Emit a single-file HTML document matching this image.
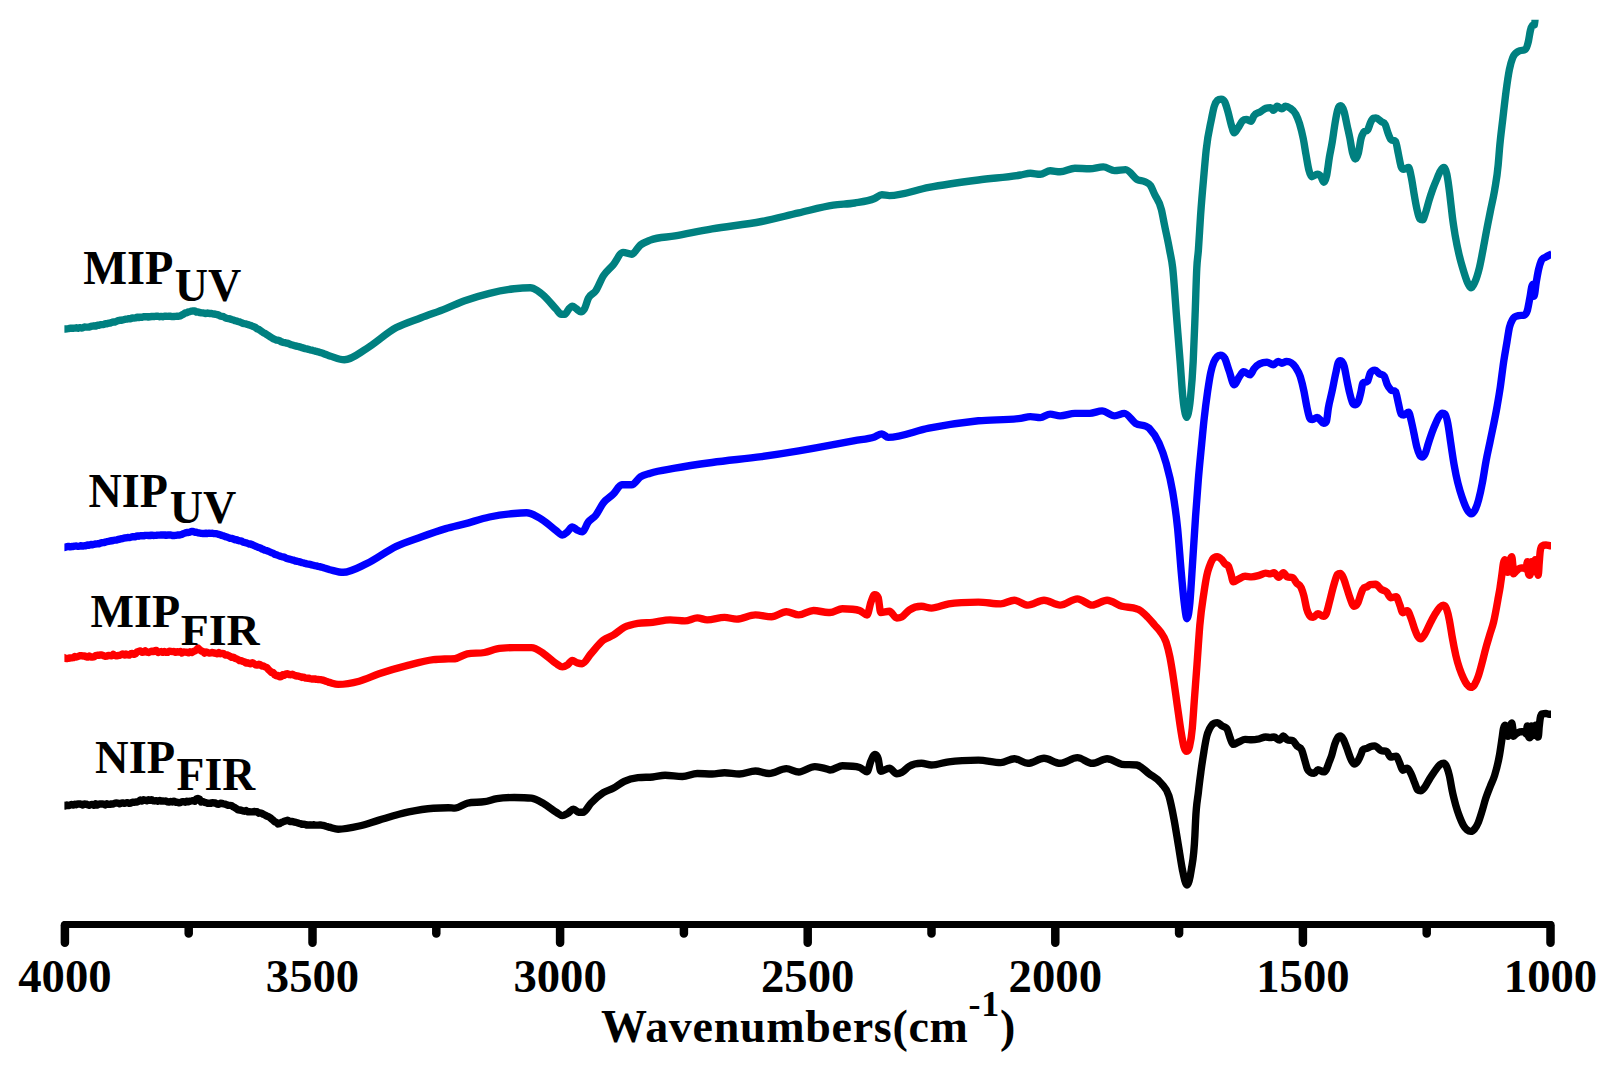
<!DOCTYPE html>
<html lang="en"><head><meta charset="utf-8"><title>FTIR spectra</title>
<style>
html,body{margin:0;padding:0;background:#fff;}
body{width:1617px;height:1071px;overflow:hidden;}
svg{display:block;}
.t{font-family:"Liberation Serif",serif;font-weight:bold;fill:#000;}
.c{fill:none;stroke-width:7.4;stroke-linejoin:round;stroke-linecap:butt;}
.ax{stroke:#000;stroke-width:6.9;stroke-linecap:round;fill:none;}
.tk{stroke-width:8.5;}
</style></head><body>
<svg width="1617" height="1071" viewBox="0 0 1617 1071">
<defs><clipPath id="plot"><rect x="64.4" y="19.8" width="1486.6" height="900"/></clipPath></defs>
<rect width="1617" height="1071" fill="#fff"/>
<g clip-path="url(#plot)">
<path class="c" stroke="#000000" d="M62,805.62 L63.6,805.27 L65.2,805.99 L66.8,804.97 L68.4,805.6 L70,805.19 L71.6,804.54 L73.2,805.1 L74.8,804.19 L76.4,804.68 L78,803.97 L79.6,803.91 L81.2,804.39 L82.8,805.02 L84.4,803.9 L86,804.06 L87.6,804.7 L89.2,805.22 L90.8,804.62 L92.4,804.33 L94,805.26 L95.6,803.77 L97.2,805.07 L98.8,804.16 L100.4,803.93 L102,803.87 L103.6,804.14 L105.2,804.9 L106.8,803.81 L108.4,804.38 L110,804.38 L111.6,803.85 L113.2,804.03 L114.8,803.14 L116.4,803.01 L118,803.12 L119.6,803.76 L121.2,803.22 L122.8,802.92 L124.4,803.26 L126,802.96 L127.6,802.62 L129.2,803.31 L130.8,803.01 L132.4,802.1 L134,802.38 L135.6,801.97 L137.2,802.02 L138.8,801.21 L140.4,800.07 L142,801.07 L143.6,799.69 L145.2,800.19 L146.8,800.75 L148.4,799.81 L150,800.38 L151.6,799.7 L153.2,800.75 L154.8,800.95 L156.4,800.7 L158,801.25 L159.6,800.42 L161.2,801.11 L162.8,801.04 L164.4,801.13 L166,801.07 L167.6,801.83 L169.2,802.15 L170.8,801.54 L172.4,801.98 L174,801.13 L175.6,802.25 L177.2,802.22 L178.8,802.79 L180.4,802.51 L182,801.65 L183.6,801.79 L185.2,802.21 L186.8,801.12 L188.4,801.74 L190,801.16 L191.6,800.92 L193.2,800.64 L194.8,801.2 L196.4,799.05 L198,798.44 L199.6,799.34 L201.2,801.98 L202.8,801.5 L204.4,802.35 L206,802.64 L207.6,803.24 L209.2,803.19 L210.8,803.38 L212.4,802.61 L214,802.98 L215.6,803.04 L217.2,804.04 L218.8,804.32 L220.4,803.22 L222,803.47 L223.6,803.81 L225.2,804.11 L226.8,804.85 L228.4,805.42 L230,805.4 L231.6,805.58 L233.2,806.9 L234.8,807.51 L236.4,808.52 L238,809.82 L239.6,810.02 L241.2,810.27 L242.8,810.87 L244.4,811.25 L246,810.42 L247.6,811.85 L249.2,811.71 L250.8,811.91 L252.4,811.9 L254,811.46 L255.6,811.81 L257.2,811.8 L258.8,813.18 L260.4,812.86 L262,813.52 L263.6,814.46 L265.2,815.13 L266.8,816.19 L268.4,816.57 L270,817.56 L271.6,819.06 L273.2,820.26 L274.8,821.81 L276.4,822.23 L278,823.95 L279.6,823.58 L281.2,822.5 L282.8,821.91 L284.4,821.26 L286,820.67 L287.6,820.17 L289.2,821.12 L290.8,821.61 L292.4,821.54 L294,822.1 L295.6,822.25 L297.2,822.71 L298.8,823.27 L300.4,823.56 L302,824.32 L303.6,824.14 L305.2,824.33 L306.8,825.12 L308.4,824.98 L310,824.81 L311.6,825.02 L313.2,824.79 L314.8,825.01 L316.4,825.17 L318,825.12 L319.6,825.05 L321.2,825.03 L322.8,825.3 L324.4,825.65 L326,826.18 L327.6,826.66 L329.2,827.21 L329.2,827.2C332.2,827.9 335.2,829.2 338.2,829.2C345.2,829.2 352.2,827.6 359.2,826.0C365.8,824.5 372.4,822.0 379.0,820.1C388.9,817.2 398.8,814.0 408.7,811.9C416.9,810.2 425.2,808.8 433.4,808.2C438.4,807.8 443.3,807.7 448.3,807.7C450.5,807.7 452.6,808.1 454.8,808.1C458.9,808.1 463.1,804.3 467.2,803.2C473.0,801.7 478.7,802.7 484.5,801.7C488.6,801.0 492.8,799.4 496.9,798.7C502.7,797.7 508.4,797.5 514.2,797.5C520.0,797.5 525.7,797.5 531.5,798.2C535.6,798.7 539.8,801.4 543.9,803.7C548.0,806.1 552.2,809.9 556.3,812.3C558.3,813.5 560.4,815.6 562.4,815.6C564.1,815.6 565.7,814.5 567.4,813.6C569.5,812.5 571.5,809.1 573.6,809.1C575.2,809.1 576.9,812.3 578.5,812.3C580.0,812.3 581.5,812.3 583.0,812.3C585.6,812.3 588.3,805.9 590.9,803.2C595.0,798.9 599.2,795.2 603.3,792.6C606.6,790.6 609.9,790.0 613.2,788.3C616.9,786.4 620.6,783.1 624.3,781.4C628.8,779.3 633.4,778.3 637.9,777.7C642.8,777.0 647.8,777.5 652.7,777.0C656.8,776.6 661.0,775.2 665.1,775.2C670.9,775.2 676.6,776.5 682.4,776.5C687.4,776.5 692.3,773.5 697.3,773.5C702.2,773.5 707.2,774.0 712.1,774.0C716.2,774.0 720.4,772.8 724.5,772.8C729.4,772.8 734.4,774.0 739.3,774.0C744.7,774.0 750.0,771.0 755.4,771.0C759.9,771.0 764.5,773.5 769.0,773.5C774.8,773.5 780.5,768.6 786.3,768.6C790.4,768.6 794.6,772.0 798.7,772.0C804.1,772.0 809.4,766.6 814.8,766.6C819.3,766.6 823.9,768.1 828.4,769.5C828.9,769.7 829.5,770.0 830.0,770.0C834.1,770.0 838.3,765.8 842.4,765.8C848.2,765.8 853.9,765.8 859.7,767.5C862.2,768.2 864.6,771.7 867.1,771.7C868.3,771.7 869.6,764.1 870.8,761.3C872.2,758.1 873.6,754.4 875.0,754.4C876.1,754.4 877.1,755.2 878.2,758.8C879.0,761.6 879.9,771.2 880.7,771.2C883.6,771.2 886.5,768.2 889.4,768.2C891.9,768.2 894.3,773.7 896.8,773.7C898.4,773.7 900.1,773.2 901.7,772.4C904.2,771.2 906.7,767.8 909.2,766.3C913.3,763.8 917.4,763.3 921.5,763.3C924.8,763.3 928.1,765.0 931.4,765.0C937.2,765.0 942.9,762.6 948.7,761.8C958.6,760.4 968.5,760.1 978.4,760.1C985.8,760.1 993.3,762.6 1000.7,762.6C1005.2,762.6 1009.8,758.8 1014.3,758.8C1018.8,758.8 1023.4,763.3 1027.9,763.3C1033.3,763.3 1038.6,758.3 1044.0,758.3C1049.4,758.3 1054.7,763.3 1060.1,763.3C1065.9,763.3 1071.6,757.6 1077.4,757.6C1082.3,757.6 1087.3,763.3 1092.2,763.3C1097.2,763.3 1102.1,758.8 1107.1,758.8C1112.0,758.8 1117.0,763.6 1121.9,764.3C1126.8,765.0 1131.8,764.3 1136.7,765.0C1140.8,765.6 1145.0,770.6 1149.1,773.7C1153.2,776.8 1157.4,778.1 1161.5,783.6C1164.0,786.9 1166.4,787.5 1168.9,795.9C1170.5,801.5 1172.2,809.6 1173.8,818.2C1175.5,826.9 1177.1,837.9 1178.8,847.9C1180.0,855.3 1181.3,864.3 1182.5,870.2C1184.0,877.4 1185.5,885.0 1187.0,885.0C1188.4,885.0 1189.8,879.5 1191.2,870.2C1192.4,862.0 1193.7,860.2 1194.9,835.5C1195.1,830.8 1195.4,824.7 1195.6,820.1C1196.5,801.8 1197.5,800.4 1198.4,792.0C1199.3,783.6 1200.3,776.4 1201.2,769.6C1202.1,762.8 1203.1,756.6 1204.0,751.0C1204.9,745.4 1205.9,739.7 1206.8,736.0C1207.7,732.3 1208.7,730.5 1209.6,728.6C1210.5,726.7 1211.5,725.4 1212.4,724.4C1214.1,722.6 1215.8,722.6 1217.5,722.6C1218.9,722.6 1220.3,724.8 1221.7,725.8C1223.6,727.1 1225.4,725.8 1227.3,729.5C1228.2,731.4 1229.2,735.4 1230.1,737.9C1231.1,740.4 1232.0,744.4 1233.0,744.4C1234.9,744.4 1236.7,742.8 1238.6,742.0C1240.8,741.1 1242.9,739.4 1245.1,739.4C1247.3,739.4 1249.4,739.8 1251.6,739.8C1254.1,739.8 1256.6,739.3 1259.1,738.8C1261.3,738.3 1263.4,737.0 1265.6,737.0C1267.2,737.0 1268.7,737.5 1270.3,737.5C1271.5,737.5 1272.8,737.0 1274.0,737.0C1275.9,737.0 1277.7,740.1 1279.6,740.1C1280.9,740.1 1282.1,736.0 1283.4,736.0C1284.6,736.0 1285.9,739.2 1287.1,739.8C1289.0,740.7 1290.8,739.8 1292.7,740.7C1294.3,741.5 1295.8,744.7 1297.4,746.3C1298.8,747.8 1300.3,746.7 1301.7,750.0C1302.7,752.4 1303.8,756.9 1304.8,760.3C1305.7,763.4 1306.7,767.6 1307.6,769.6C1308.5,771.6 1309.5,771.8 1310.4,772.4C1311.7,773.3 1312.9,773.4 1314.2,773.4C1315.4,773.4 1316.7,769.6 1317.9,769.6C1319.8,769.6 1321.6,771.9 1323.5,771.9C1324.4,771.9 1325.4,771.2 1326.3,769.6C1327.2,768.0 1328.2,764.7 1329.1,762.2C1330.0,759.7 1331.0,757.7 1331.9,754.7C1332.8,751.7 1333.8,747.2 1334.7,744.4C1335.6,741.6 1336.6,739.3 1337.5,737.9C1338.4,736.5 1339.4,736.0 1340.3,736.0C1341.2,736.0 1342.2,737.3 1343.1,738.8C1344.4,740.9 1345.6,744.9 1346.9,748.2C1348.1,751.4 1349.4,755.7 1350.6,758.4C1351.7,760.9 1352.9,764.0 1354.0,764.0C1355.4,764.0 1356.7,762.9 1358.1,760.7C1359.0,759.2 1360.0,757.0 1360.9,754.7C1361.5,753.2 1362.1,750.7 1362.7,750.0C1364.3,748.2 1365.8,749.0 1367.4,748.2C1368.3,747.8 1369.1,747.2 1370.0,746.8C1371.6,746.2 1373.1,745.9 1374.7,745.9C1376.9,745.9 1379.0,749.7 1381.2,750.6C1383.1,751.4 1384.9,750.6 1386.8,751.5C1388.0,752.1 1389.3,757.1 1390.5,757.1C1392.4,757.1 1394.2,756.2 1396.1,756.2C1397.4,756.2 1398.6,760.8 1399.9,763.6C1400.8,765.6 1401.8,770.2 1402.7,770.2C1404.2,770.2 1405.8,768.3 1407.3,768.3C1408.6,768.3 1409.8,771.4 1411.1,773.9C1412.3,776.4 1413.6,780.2 1414.8,783.2C1415.7,785.5 1416.7,789.0 1417.6,789.8C1418.7,790.7 1419.7,790.7 1420.8,790.7C1421.9,790.7 1423.1,789.2 1424.2,787.9C1426.1,785.8 1427.9,781.5 1429.8,778.6C1431.7,775.6 1433.5,772.7 1435.4,770.2C1436.9,768.1 1438.5,765.8 1440.0,764.6C1441.3,763.6 1442.5,763.1 1443.8,763.1C1444.8,763.1 1445.9,764.8 1446.9,767.4C1447.7,769.5 1448.6,772.2 1449.4,775.8C1450.3,779.8 1451.3,786.2 1452.2,790.7C1453.4,796.6 1454.7,801.3 1455.9,805.7C1457.1,810.1 1458.4,813.7 1459.6,816.9C1460.9,820.2 1462.1,823.1 1463.4,825.3C1464.6,827.4 1465.9,828.9 1467.1,829.9C1468.3,830.9 1469.6,831.4 1470.8,831.4C1472.1,831.4 1473.3,830.5 1474.6,829.0C1475.8,827.5 1477.1,825.5 1478.3,822.5C1479.5,819.5 1480.8,815.3 1482.0,811.3C1483.3,807.2 1484.5,802.1 1485.8,798.2C1487.3,793.7 1488.7,790.3 1490.2,786.5C1491.7,782.7 1493.1,780.3 1494.6,775.5C1496.3,770.0 1497.9,764.2 1499.6,754.5C1500.4,749.8 1501.2,744.1 1502.0,738.6C1502.5,735.4 1502.9,731.0 1503.4,728.8C1503.9,726.4 1504.4,725.1 1504.9,725.1C1505.5,725.1 1506.2,729.3 1506.8,731.8C1507.2,733.2 1507.5,736.3 1507.9,736.3C1508.5,736.3 1509.2,729.5 1509.8,727.3C1510.4,725.1 1511.1,722.9 1511.7,722.9C1512.1,722.9 1512.4,725.6 1512.8,728.8C1513.0,730.8 1513.3,736.3 1513.5,736.3C1514.3,736.3 1515.0,734.7 1515.8,734.1C1517.2,733.0 1518.5,732.1 1519.9,731.8C1521.4,731.5 1522.9,731.5 1524.4,731.5C1525.0,731.5 1525.6,734.1 1526.2,734.1C1526.6,734.1 1526.9,725.9 1527.3,725.9C1527.7,725.9 1528.1,735.1 1528.5,736.3C1529.0,737.8 1529.5,737.8 1530.0,737.8C1530.5,737.8 1531.0,725.9 1531.5,725.9C1532.1,725.9 1532.7,735.6 1533.3,735.6C1534.1,735.6 1534.8,725.1 1535.6,725.1C1536.0,725.1 1536.3,728.6 1536.7,730.3C1537.2,732.6 1537.7,737.1 1538.2,737.1C1538.6,737.1 1538.9,729.3 1539.3,725.9C1539.6,723.2 1539.9,720.3 1540.2,718.4C1540.9,713.9 1541.6,714.1 1542.3,713.9C1543.5,713.5 1544.8,713.5 1546.0,713.5C1547.0,713.5 1548.0,714.3 1549.0,714.3C1550.7,714.3 1552.3,714.3 1554.0,714.3"/>
<path class="c" stroke="#ff0000" d="M62,657.66 L63.6,657.33 L65.2,658.39 L66.8,658.62 L68.4,658.23 L70,658.01 L71.6,657.91 L73.2,657.63 L74.8,656.48 L76.4,656.94 L78,656.49 L79.6,655.73 L81.2,655.62 L82.8,656.02 L84.4,655.89 L86,656.68 L87.6,657.13 L89.2,656.03 L90.8,656.94 L92.4,656.98 L94,656.85 L95.6,655.6 L97.2,655.24 L98.8,655.19 L100.4,655.05 L102,655 L103.6,655.79 L105.2,656.29 L106.8,656.12 L108.4,655.34 L110,655.64 L111.6,655.87 L113.2,654.38 L114.8,655.46 L116.4,655.88 L118,655.53 L119.6,655.36 L121.2,654.7 L122.8,653.97 L124.4,655.07 L126,654.05 L127.6,654.86 L129.2,655.06 L130.8,653.74 L132.4,653.54 L134,654.36 L135.6,653.58 L137.2,651.96 L138.8,651.29 L140.4,650.91 L142,652.31 L143.6,652.11 L145.2,650.79 L146.8,652.15 L148.4,652.46 L150,651.81 L151.6,651.2 L153.2,651.6 L154.8,650.76 L156.4,650.53 L158,652.44 L159.6,651.8 L161.2,651.55 L162.8,652.38 L164.4,651.43 L166,652.37 L167.6,652.36 L169.2,651.23 L170.8,651.41 L172.4,651.58 L174,651.56 L175.6,652.32 L177.2,651.71 L178.8,652.04 L180.4,651.46 L182,653.01 L183.6,651.88 L185.2,652.06 L186.8,652.25 L188.4,652.81 L190,651.73 L191.6,652.57 L193.2,651.54 L194.8,651.03 L196.4,649.89 L198,648.08 L199.6,649.63 L201.2,651 L202.8,651.31 L204.4,653.06 L206,651.88 L207.6,652.51 L209.2,653.05 L210.8,652.81 L212.4,652.49 L214,653 L215.6,653.22 L217.2,653.83 L218.8,652.64 L220.4,653.75 L222,653.36 L223.6,653.69 L225.2,655 L226.8,654.86 L228.4,655.41 L230,656.36 L231.6,657.31 L233.2,657.08 L234.8,658.17 L236.4,658.73 L238,659.49 L239.6,660.57 L241.2,660.73 L242.8,661.44 L244.4,661.76 L246,663.02 L247.6,662.82 L249.2,663.42 L250.8,663.8 L252.4,662.72 L254,663.67 L255.6,664.88 L257.2,665.16 L258.8,664.28 L260.4,664.81 L262,666.06 L263.6,665.97 L265.2,667.03 L266.8,667.47 L268.4,669.55 L270,670.97 L271.6,672.55 L273.2,672.55 L274.8,674.9 L276.4,675.82 L278,675.5 L279.6,676.79 L281.2,676.51 L282.8,674.7 L284.4,675.18 L286,673.84 L287.6,673.78 L289.2,674.6 L290.8,674.69 L292.4,674.28 L294,675.13 L295.6,675.74 L297.2,675.98 L298.8,676.2 L300.4,676.71 L302,677.45 L303.6,677.18 L305.2,677.98 L306.8,678.19 L308.4,678.16 L310,678.63 L311.6,678.98 L313.2,679.02 L314.8,678.88 L316.4,679.41 L318,679.43 L319.6,679.66 L321.2,679.68 L322.8,680.15 L324.4,680.61 L326,681.28 L327.6,681.8 L329.2,682.38 L329.2,682.4C332.2,683.1 335.2,684.4 338.2,684.4C345.2,684.4 352.2,683.1 359.2,681.2C365.8,679.4 372.4,676.1 379.0,673.8C388.9,670.4 398.8,667.6 408.7,665.1C416.9,663.0 425.2,660.7 433.4,659.7C438.4,659.1 443.3,659.1 448.3,658.9C450.5,658.8 452.6,658.9 454.8,658.7C458.9,658.3 463.1,654.7 467.2,653.8C473.0,652.5 478.7,653.7 484.5,652.5C488.6,651.7 492.8,649.6 496.9,648.8C502.7,647.6 508.4,647.6 514.2,647.6C520.0,647.6 525.7,647.6 531.5,647.6C535.6,647.6 539.8,651.1 543.9,653.8C548.0,656.5 552.2,661.2 556.3,663.7C558.3,665.0 560.4,666.9 562.4,666.9C564.1,666.9 565.7,666.0 567.4,664.9C569.0,663.8 570.7,660.4 572.3,660.4C574.0,660.4 575.6,662.4 577.3,662.9C578.9,663.4 580.6,663.7 582.2,663.7C585.1,663.7 588.0,657.1 590.9,653.8C595.0,649.2 599.2,643.4 603.3,640.2C606.6,637.7 609.9,637.2 613.2,635.2C616.9,633.0 620.6,629.2 624.3,627.3C628.8,624.9 633.4,624.1 637.9,623.3C642.8,622.4 647.8,622.9 652.7,622.4C658.5,621.8 664.3,619.9 670.1,619.9C675.0,619.9 680.0,620.9 684.9,620.9C689.0,620.9 693.2,617.9 697.3,617.9C700.6,617.9 703.9,619.9 707.2,619.9C713.0,619.9 718.7,617.4 724.5,617.4C728.6,617.4 732.7,619.1 736.8,619.1C743.0,619.1 749.2,614.9 755.4,614.9C760.8,614.9 766.1,616.7 771.5,616.7C776.4,616.7 781.4,611.7 786.3,611.7C790.4,611.7 794.6,614.9 798.7,614.9C803.6,614.9 808.6,610.5 813.5,610.5C818.5,610.5 823.4,612.5 828.4,612.5C828.9,612.5 829.5,612.5 830.0,612.5C834.1,612.5 838.3,608.8 842.4,608.8C848.2,608.8 853.9,608.8 859.7,610.6C862.2,611.4 864.6,615.0 867.1,615.0C868.3,615.0 869.6,606.0 870.8,602.6C872.0,599.2 873.3,594.7 874.5,594.7C875.7,594.7 877.0,594.7 878.2,597.7C879.0,599.7 879.9,612.5 880.7,612.5C883.6,612.5 886.5,611.3 889.4,611.3C891.9,611.3 894.3,618.0 896.8,618.0C898.4,618.0 900.1,617.8 901.7,617.0C904.2,615.8 906.7,611.8 909.2,610.1C913.3,607.3 917.4,606.3 921.5,606.3C924.8,606.3 928.1,608.1 931.4,608.1C937.2,608.1 942.9,604.9 948.7,603.9C958.6,602.2 968.5,602.1 978.4,602.1C985.8,602.1 993.3,603.9 1000.7,603.9C1005.2,603.9 1009.8,600.2 1014.3,600.2C1018.8,600.2 1023.4,605.1 1027.9,605.1C1033.3,605.1 1038.6,600.2 1044.0,600.2C1049.4,600.2 1054.7,605.1 1060.1,605.1C1065.9,605.1 1071.6,598.9 1077.4,598.9C1082.3,598.9 1087.3,605.1 1092.2,605.1C1097.2,605.1 1102.1,600.2 1107.1,600.2C1112.0,600.2 1117.0,604.9 1121.9,606.3C1126.8,607.7 1131.8,606.7 1136.7,608.8C1137.8,609.3 1138.9,609.7 1140.0,610.4C1142.5,611.9 1145.0,614.5 1147.5,617.0C1150.0,619.5 1152.4,622.6 1154.9,625.4C1156.8,627.5 1158.6,629.1 1160.5,631.9C1162.4,634.7 1164.2,636.5 1166.1,642.2C1167.4,646.1 1168.6,650.8 1169.9,657.1C1171.1,663.3 1172.4,671.4 1173.6,679.5C1174.8,687.6 1176.1,697.1 1177.3,705.7C1178.6,714.5 1179.8,724.2 1181.1,731.8C1182.0,737.4 1183.0,743.4 1183.9,746.7C1184.8,750.0 1185.8,751.4 1186.7,751.4C1187.6,751.4 1188.6,750.6 1189.5,746.7C1190.4,742.8 1191.4,738.3 1192.3,728.1C1192.9,721.2 1193.6,710.5 1194.2,701.9C1195.1,689.2 1196.1,677.4 1197.0,664.6C1197.9,651.9 1198.9,636.2 1199.8,625.4C1201.2,609.2 1202.6,601.7 1204.0,592.2C1204.9,585.9 1205.9,579.8 1206.8,575.4C1207.7,571.0 1208.7,568.6 1209.6,566.0C1210.5,563.3 1211.5,561.1 1212.4,559.5C1214.0,556.9 1215.5,556.7 1217.1,556.7C1218.6,556.7 1220.2,558.0 1221.7,559.5C1223.0,560.7 1224.2,563.1 1225.5,564.2C1226.4,565.0 1227.4,564.3 1228.3,566.0C1229.2,567.7 1230.2,571.4 1231.1,574.4C1231.8,576.8 1232.6,581.9 1233.3,581.9C1235.1,581.9 1236.8,580.0 1238.6,579.1C1240.8,578.1 1242.9,576.3 1245.1,576.3C1247.3,576.3 1249.4,576.9 1251.6,576.9C1254.1,576.9 1256.6,576.1 1259.1,575.4C1261.3,574.8 1263.4,573.1 1265.6,573.1C1267.2,573.1 1268.7,573.9 1270.3,573.9C1271.5,573.9 1272.8,572.6 1274.0,572.6C1275.6,572.6 1277.1,577.2 1278.7,577.2C1280.3,577.2 1281.8,572.6 1283.4,572.6C1284.6,572.6 1285.9,576.4 1287.1,576.9C1289.0,577.6 1290.8,576.9 1292.7,577.6C1293.9,578.1 1295.2,581.3 1296.4,582.8C1298.0,584.7 1299.5,584.0 1301.1,587.5C1302.0,589.6 1303.0,592.3 1303.9,595.9C1304.8,599.5 1305.8,605.7 1306.7,609.0C1307.6,612.3 1308.6,614.1 1309.5,615.5C1310.7,617.4 1312.0,617.4 1313.2,617.4C1314.8,617.4 1316.3,613.6 1317.9,613.6C1319.8,613.6 1321.6,616.4 1323.5,616.4C1324.4,616.4 1325.4,615.8 1326.3,613.6C1327.2,611.4 1328.2,607.0 1329.1,603.4C1330.0,599.8 1331.0,595.8 1331.9,592.2C1332.8,588.6 1333.8,584.9 1334.7,581.9C1335.6,578.9 1336.6,575.3 1337.5,574.4C1338.4,573.5 1339.4,573.5 1340.3,573.5C1341.2,573.5 1342.2,575.3 1343.1,577.2C1344.4,579.7 1345.6,584.6 1346.9,588.4C1348.1,592.1 1349.4,596.6 1350.6,599.6C1351.7,602.4 1352.9,606.2 1354.0,606.2C1355.4,606.2 1356.7,605.4 1358.1,602.4C1359.0,600.4 1360.0,596.5 1360.9,594.0C1361.5,592.4 1362.1,590.5 1362.7,589.4C1364.3,586.6 1365.8,587.7 1367.4,586.6C1368.3,586.0 1369.1,584.9 1370.0,584.7C1371.9,584.3 1373.7,584.3 1375.6,584.3C1377.5,584.3 1379.3,588.1 1381.2,589.4C1383.1,590.7 1384.9,590.1 1386.8,592.2C1388.0,593.6 1389.3,597.8 1390.5,597.8C1392.4,597.8 1394.2,596.8 1396.1,596.8C1397.4,596.8 1398.6,602.1 1399.9,605.2C1400.8,607.5 1401.8,612.7 1402.7,612.7C1404.2,612.7 1405.8,610.8 1407.3,610.8C1408.6,610.8 1409.8,615.1 1411.1,618.3C1412.3,621.4 1413.6,626.2 1414.8,629.5C1415.7,632.0 1416.7,634.5 1417.6,636.1C1418.7,637.9 1419.7,638.9 1420.8,638.9C1421.9,638.9 1423.1,636.7 1424.2,635.1C1426.1,632.4 1427.9,627.5 1429.8,623.9C1431.7,620.3 1433.5,616.6 1435.4,613.6C1436.9,611.1 1438.5,608.5 1440.0,607.1C1441.1,606.1 1442.1,605.2 1443.2,605.2C1444.3,605.2 1445.5,605.9 1446.6,609.0C1447.5,611.5 1448.5,615.5 1449.4,620.2C1450.3,624.9 1451.3,631.8 1452.2,637.0C1453.4,643.9 1454.7,650.4 1455.9,655.7C1457.1,661.0 1458.4,665.0 1459.6,668.7C1460.9,672.5 1462.1,675.4 1463.4,678.1C1464.6,680.7 1465.9,683.1 1467.1,684.6C1468.3,686.2 1469.6,687.4 1470.8,687.4C1472.1,687.4 1473.3,686.5 1474.6,684.6C1475.8,682.7 1477.1,679.8 1478.3,676.2C1479.5,672.6 1480.8,667.7 1482.0,663.1C1483.3,658.4 1484.5,652.9 1485.8,648.2C1487.1,643.3 1488.5,639.0 1489.8,634.5C1491.1,630.2 1492.3,627.3 1493.6,622.0C1495.0,616.0 1496.5,607.5 1497.9,599.6C1498.6,595.6 1499.4,591.9 1500.1,587.2C1500.7,583.1 1501.4,578.4 1502.0,573.8C1502.5,570.4 1502.9,565.7 1503.4,563.3C1503.8,561.3 1504.2,559.6 1504.6,559.6C1505.1,559.6 1505.6,562.7 1506.1,564.8C1506.6,566.9 1507.1,572.3 1507.6,572.3C1508.2,572.3 1508.8,564.4 1509.4,561.8C1510.2,558.5 1510.9,556.6 1511.7,556.6C1512.1,556.6 1512.4,560.9 1512.8,564.8C1513.0,567.3 1513.3,573.8 1513.5,573.8C1514.3,573.8 1515.0,572.2 1515.8,571.5C1517.2,570.2 1518.5,568.6 1519.9,568.2C1521.3,567.8 1522.6,567.8 1524.0,567.8C1524.7,567.8 1525.5,569.3 1526.2,569.3C1526.6,569.3 1526.9,561.8 1527.3,561.8C1527.7,561.8 1528.1,572.6 1528.5,573.8C1529.0,575.3 1529.5,575.3 1530.0,575.3C1530.5,575.3 1531.0,561.8 1531.5,561.8C1532.1,561.8 1532.7,571.5 1533.3,571.5C1533.9,571.5 1534.6,559.6 1535.2,559.6C1535.7,559.6 1536.2,563.7 1536.7,566.3C1537.2,568.9 1537.7,575.3 1538.2,575.3C1538.6,575.3 1538.9,566.2 1539.3,561.8C1539.6,558.2 1539.9,553.8 1540.2,551.4C1540.9,545.8 1541.6,546.3 1542.3,545.8C1543.5,545.0 1544.8,545.0 1546.0,545.0C1547.6,545.0 1549.3,545.8 1550.9,545.8C1551.9,545.8 1553.0,545.8 1554.0,545.8"/>
<path class="c" stroke="#0000ff" d="M62,547.35 L63.6,547.49 L65.2,547.23 L66.8,546.66 L68.4,546.44 L70,546.87 L71.6,546.54 L73.2,546.56 L74.8,546.07 L76.4,545.98 L78,546.35 L79.6,546.07 L81.2,545.69 L82.8,546.14 L84.4,545.75 L86,545.68 L87.6,544.97 L89.2,545.29 L90.8,544.5 L92.4,544.82 L94,544.28 L95.6,543.94 L97.2,543.82 L98.8,543.82 L100.4,543.08 L102,542.69 L103.6,542.66 L105.2,542.14 L106.8,541.72 L108.4,541.42 L110,541 L111.6,540.76 L113.2,540.49 L114.8,540.14 L116.4,540.12 L118,539.46 L119.6,539.29 L121.2,538.77 L122.8,538.59 L124.4,538.06 L126,537.92 L127.6,537.44 L129.2,537.64 L130.8,537.22 L132.4,536.68 L134,536.61 L135.6,536.68 L137.2,535.88 L138.8,536.18 L140.4,535.74 L142,535.66 L143.6,535.79 L145.2,535.39 L146.8,535.4 L148.4,535.47 L150,535.63 L151.6,535.15 L153.2,535.47 L154.8,535.36 L156.4,535.3 L158,535.14 L159.6,535.09 L161.2,534.89 L162.8,534.94 L164.4,534.9 L166,535.37 L167.6,535.03 L169.2,534.96 L170.8,534.91 L172.4,535.44 L174,535.46 L175.6,535.32 L177.2,535.05 L178.8,535.02 L180.4,534.79 L182,534.36 L183.6,533.47 L185.2,533.04 L186.8,532.44 L188.4,532.48 L190,532.08 L191.6,531.55 L193.2,531.39 L194.8,532.26 L196.4,532.31 L198,532.88 L199.6,533.03 L201.2,533.42 L202.8,533.48 L204.4,533.5 L206,533.29 L207.6,533.5 L209.2,533.15 L210.8,533.33 L212.4,533.26 L214,533.62 L215.6,533.6 L217.2,533.88 L218.8,534.44 L220.4,534.8 L222,535.5 L223.6,535.94 L225.2,536.6 L226.8,537.06 L228.4,537.62 L230,538.24 L231.6,538.39 L233.2,538.81 L234.8,539.71 L236.4,539.58 L238,540.44 L239.6,540.85 L241.2,540.9 L242.8,541.93 L244.4,542.46 L246,542.78 L247.6,543.36 L249.2,543.95 L250.8,544.02 L252.4,544.85 L254,545.42 L255.6,546.25 L257.2,546.86 L258.8,547.54 L260.4,548.06 L262,548.98 L263.6,549.55 L265.2,550.28 L266.8,550.67 L268.4,551.24 L270,551.99 L271.6,552.81 L273.2,553.27 L274.8,554.35 L276.4,554.76 L278,555.38 L279.6,555.94 L281.2,556.53 L282.8,556.96 L284.4,557.23 L286,558.17 L287.6,558.65 L289.2,559.03 L290.8,559.53 L292.4,560.07 L294,560.29 L295.6,561.02 L297.2,561.26 L298.8,561.63 L300.4,562.11 L302,562.66 L303.6,562.89 L305.2,563.43 L306.8,563.86 L308.4,564.1 L310,564.44 L311.6,564.83 L313.2,565.24 L314.8,565.62 L316.4,565.96 L318,566.34 L319.6,566.65 L321.2,567.07 L322.8,567.54 L324.4,568.06 L326,568.53 L327.6,569.05 L329.2,569.55 L329.2,569.5C333.8,570.5 338.5,572.3 343.1,572.3C350.9,572.3 358.8,567.3 366.6,563.7C376.5,559.1 386.4,551.1 396.3,546.4C404.6,542.5 412.8,540.0 421.1,537.0C429.3,534.0 437.6,531.0 445.8,528.6C452.1,526.8 458.4,525.5 464.7,523.9C473.0,521.7 481.2,518.7 489.5,517.0C497.7,515.3 506.0,514.2 514.2,513.5C518.3,513.1 522.5,512.8 526.6,512.8C530.3,512.8 534.0,515.0 537.7,517.0C540.6,518.5 543.5,520.6 546.4,522.7C549.7,525.1 553.0,528.4 556.3,530.8C558.3,532.3 560.4,535.0 562.4,535.0C564.1,535.0 565.7,533.2 567.4,531.8C569.0,530.5 570.7,526.9 572.3,526.9C574.0,526.9 575.6,529.3 577.3,530.1C578.9,530.9 580.6,531.8 582.2,531.8C584.3,531.8 586.3,524.5 588.4,521.9C590.9,518.7 593.3,518.3 595.8,515.2C598.3,512.0 600.8,506.2 603.3,502.9C606.6,498.6 609.9,497.5 613.2,494.2C616.1,491.4 618.9,484.8 621.8,484.8C625.1,484.8 628.4,484.8 631.7,484.8C634.6,484.8 637.5,478.8 640.4,476.9C643.7,474.7 647.0,474.3 650.3,473.2C658.5,470.5 666.8,469.7 675.0,468.2C687.4,465.9 699.7,464.2 712.1,462.5C728.6,460.2 745.1,458.9 761.6,456.6C774.0,454.9 786.3,453.0 798.7,450.9C810.2,449.0 821.8,446.9 833.3,444.7C840.4,443.4 847.6,441.9 854.7,440.6C861.3,439.4 867.9,439.2 874.5,436.9C877.0,436.0 879.4,433.9 881.9,433.9C884.0,433.9 886.0,437.4 888.1,437.4C901.7,437.4 915.3,430.8 928.9,428.2C945.4,425.0 961.9,422.5 978.4,420.8C992.4,419.4 1006.5,420.4 1020.5,418.3C1023.8,417.8 1027.1,416.6 1030.4,416.6C1033.7,416.6 1037.0,417.6 1040.3,417.6C1043.6,417.6 1046.9,414.1 1050.2,414.1C1053.5,414.1 1056.8,415.9 1060.1,415.9C1065.0,415.9 1070.0,413.4 1074.9,413.4C1079.8,413.4 1084.8,413.4 1089.7,413.4C1093.8,413.4 1098.0,410.9 1102.1,410.9C1106.2,410.9 1110.4,415.9 1114.5,415.9C1117.8,415.9 1121.1,413.4 1124.4,413.4C1128.1,413.4 1131.8,420.9 1135.5,423.3C1140.0,426.3 1144.6,423.6 1149.1,428.2C1152.4,431.6 1155.7,435.6 1159.0,443.1C1161.5,448.7 1163.9,455.0 1166.4,464.1C1168.5,471.7 1170.5,478.8 1172.6,491.3C1174.3,501.4 1175.9,511.6 1177.6,528.4C1178.8,540.8 1180.1,559.3 1181.3,572.9C1182.3,583.6 1183.2,594.9 1184.2,602.6C1185.1,610.0 1186.1,618.7 1187.0,618.7C1188.0,618.7 1188.9,612.8 1189.9,602.6C1190.7,593.8 1191.6,578.1 1192.4,565.5C1193.5,549.4 1194.5,531.4 1195.6,516.1C1196.5,503.2 1197.4,491.0 1198.3,480.0C1199.4,466.6 1200.5,456.0 1201.6,444.6C1202.5,435.6 1203.3,426.3 1204.2,418.4C1205.3,408.4 1206.4,400.0 1207.5,392.3C1208.6,384.8 1209.6,377.8 1210.7,372.7C1211.7,367.8 1212.8,364.6 1213.8,362.0C1214.9,359.3 1215.9,357.9 1217.0,356.8C1218.1,355.6 1219.2,355.2 1220.3,355.2C1221.7,355.2 1223.2,355.5 1224.6,358.0C1226.1,360.5 1227.5,366.4 1229.0,370.5C1230.8,375.4 1232.5,384.7 1234.3,384.7C1235.9,384.7 1237.4,379.5 1239.0,377.3C1240.5,375.2 1242.1,371.7 1243.6,371.7C1245.8,371.7 1248.0,374.8 1250.2,374.8C1251.4,374.8 1252.7,370.6 1253.9,368.9C1258.3,363.0 1262.6,362.3 1267.0,362.3C1269.2,362.3 1271.3,364.7 1273.5,364.7C1275.1,364.7 1276.6,361.4 1278.2,361.4C1279.4,361.4 1280.7,363.2 1281.9,363.2C1283.5,363.2 1285.0,361.4 1286.6,361.4C1289.6,361.4 1292.6,362.7 1295.6,367.3C1297.2,369.7 1298.7,371.8 1300.3,376.7C1301.5,380.6 1302.8,385.7 1304.0,391.6C1304.9,396.1 1305.9,402.2 1306.8,406.6C1307.7,411.0 1308.7,416.0 1309.6,417.8C1310.5,419.6 1311.5,419.6 1312.4,419.6C1314.0,419.6 1315.5,417.4 1317.1,417.4C1318.3,417.4 1319.6,419.4 1320.8,420.6C1321.7,421.5 1322.7,423.4 1323.6,423.4C1324.5,423.4 1325.5,423.4 1326.4,421.5C1327.0,420.2 1327.7,412.3 1328.3,408.4C1329.5,400.9 1330.8,397.4 1332.0,391.6C1333.3,385.6 1334.5,378.7 1335.8,373.0C1336.6,369.4 1337.4,364.7 1338.2,362.7C1338.9,360.9 1339.7,360.8 1340.4,360.8C1341.7,360.8 1342.9,362.0 1344.2,366.4C1345.1,369.7 1346.1,375.9 1347.0,380.4C1347.9,384.9 1348.9,389.8 1349.8,393.5C1350.7,397.2 1351.7,400.9 1352.6,402.8C1353.5,404.7 1354.5,404.7 1355.4,404.7C1356.3,404.7 1357.3,404.1 1358.2,401.9C1359.1,399.7 1360.1,395.6 1361.0,391.6C1361.6,389.0 1362.2,383.9 1362.8,383.2C1364.4,381.4 1365.9,383.2 1367.5,381.4C1368.4,380.3 1369.4,374.7 1370.3,373.0C1371.9,370.1 1373.4,370.1 1375.0,370.1C1376.5,370.1 1378.1,372.9 1379.6,373.9C1381.2,374.9 1382.7,373.9 1384.3,376.3C1385.2,377.7 1386.2,382.1 1387.1,384.2C1388.3,387.0 1389.6,388.5 1390.8,389.8C1392.4,391.4 1393.9,389.8 1395.5,391.6C1396.4,392.7 1397.4,399.1 1398.3,402.8C1399.2,406.5 1400.2,413.0 1401.1,414.0C1402.0,415.0 1403.0,415.0 1403.9,415.0C1405.5,415.0 1407.0,412.2 1408.6,412.2C1409.5,412.2 1410.5,417.8 1411.4,421.5C1412.3,425.2 1413.3,430.2 1414.2,434.6C1415.1,439.0 1416.1,444.2 1417.0,447.6C1417.9,451.0 1418.9,453.5 1419.8,455.1C1420.7,456.7 1421.7,457.0 1422.6,457.0C1423.5,457.0 1424.5,455.4 1425.4,453.2C1426.3,451.0 1427.3,446.9 1428.2,443.9C1429.4,440.0 1430.7,436.1 1431.9,432.7C1433.2,429.2 1434.4,426.2 1435.7,423.4C1436.9,420.6 1438.2,417.7 1439.4,415.9C1440.3,414.6 1441.3,413.1 1442.2,413.1C1443.1,413.1 1444.1,413.1 1445.0,414.0C1445.9,414.9 1446.9,418.7 1447.8,423.4C1448.7,428.1 1449.7,435.8 1450.6,442.0C1451.5,448.2 1452.5,455.1 1453.4,460.7C1454.3,466.3 1455.3,471.2 1456.2,475.7C1457.4,481.6 1458.7,486.3 1459.9,490.6C1461.2,495.0 1462.4,498.5 1463.7,501.8C1464.9,505.0 1466.2,508.2 1467.4,510.2C1468.6,512.2 1469.9,513.9 1471.1,513.9C1472.4,513.9 1473.6,512.6 1474.9,510.2C1476.1,507.9 1477.4,504.4 1478.6,499.9C1479.8,495.4 1481.1,489.5 1482.3,483.1C1483.6,476.5 1484.8,467.5 1486.1,460.7C1487.4,453.7 1488.7,448.3 1490.0,442.0C1492.3,430.6 1494.7,420.3 1497.0,407.0C1498.1,400.7 1499.2,394.5 1500.3,387.0C1501.4,379.5 1502.5,369.6 1503.6,362.2C1504.7,354.8 1505.8,349.0 1506.9,342.4C1507.7,337.4 1508.6,331.2 1509.4,327.5C1510.5,322.6 1511.6,321.2 1512.7,319.2C1514.6,315.7 1516.6,316.1 1518.5,315.6C1520.4,315.1 1522.4,315.6 1524.3,315.1C1525.4,314.8 1526.4,313.9 1527.5,310.0C1528.2,307.3 1529.0,302.4 1529.7,298.8C1530.7,293.8 1531.7,284.4 1532.7,284.4C1533.1,284.4 1533.6,296.2 1534.0,296.2C1534.8,296.2 1535.5,286.3 1536.3,281.8C1537.1,277.3 1537.8,272.8 1538.6,269.4C1539.5,265.6 1540.3,263.0 1541.2,260.9C1542.7,257.2 1544.3,258.2 1545.8,257.1C1547.9,255.7 1549.9,255.0 1552.0,253.9"/>
<path class="c" stroke="#008080" d="M62,329.09 L63.6,329 L65.2,329.04 L66.8,328.85 L68.4,328.66 L70,328.26 L71.6,328.31 L73.2,328.18 L74.8,328.1 L76.4,327.77 L78,328.22 L79.6,327.62 L81.2,328.04 L82.8,327.84 L84.4,327.01 L86,327.13 L87.6,327.17 L89.2,327.06 L90.8,326.47 L92.4,326.11 L94,325.82 L95.6,326.08 L97.2,325.3 L98.8,325.28 L100.4,324.68 L102,324.64 L103.6,324.61 L105.2,323.69 L106.8,323.8 L108.4,323.21 L110,323.1 L111.6,322.59 L113.2,321.87 L114.8,321.96 L116.4,321.31 L118,320.63 L119.6,320.27 L121.2,320.29 L122.8,319.96 L124.4,319.54 L126,319.12 L127.6,318.95 L129.2,318.63 L130.8,318.7 L132.4,317.83 L134,318.09 L135.6,317.91 L137.2,317.18 L138.8,317.55 L140.4,317.24 L142,317.24 L143.6,316.72 L145.2,316.69 L146.8,316.65 L148.4,317.03 L150,316.71 L151.6,316.53 L153.2,316.56 L154.8,316.44 L156.4,316.27 L158,316.29 L159.6,316.77 L161.2,316.35 L162.8,316.77 L164.4,316.26 L166,316.26 L167.6,316.41 L169.2,316.17 L170.8,316.28 L172.4,316.65 L174,316.55 L175.6,316.42 L177.2,316.2 L178.8,316.27 L180.4,315.87 L182,314.87 L183.6,314.13 L185.2,312.85 L186.8,312.7 L188.4,311.87 L190,311.53 L191.6,311.13 L193.2,310.9 L194.8,310.99 L196.4,312 L198,311.89 L199.6,312.54 L201.2,312.73 L202.8,312.86 L204.4,313.26 L206,313.49 L207.6,313.05 L209.2,313.43 L210.8,313.36 L212.4,313.8 L214,314.01 L215.6,314.23 L217.2,314.65 L218.8,315.15 L220.4,316.13 L222,316.38 L223.6,316.73 L225.2,317.77 L226.8,318.4 L228.4,318.58 L230,318.92 L231.6,319.5 L233.2,319.95 L234.8,320.61 L236.4,320.91 L238,321.47 L239.6,321.93 L241.2,322.6 L242.8,323.28 L244.4,323.65 L246,323.91 L247.6,324.43 L249.2,325.06 L250.8,325.55 L252.4,326.17 L254,326.68 L255.6,327.59 L257.2,328.93 L258.8,329.28 L260.4,330.55 L262,331.69 L263.6,332.93 L265.2,333.56 L266.8,334.66 L268.4,335.66 L270,336.74 L271.6,337.66 L273.2,338.79 L274.8,339.43 L276.4,340.1 L278,340.19 L279.6,340.77 L281.2,341.69 L282.8,342.29 L284.4,342.54 L286,343.07 L287.6,343.23 L289.2,343.89 L290.8,344.61 L292.4,345.04 L294,345.54 L295.6,346.05 L297.2,346.22 L298.8,346.62 L300.4,347.08 L302,347.64 L303.6,348.11 L305.2,348.6 L306.8,348.94 L308.4,349.33 L310,349.77 L311.6,350.11 L313.2,350.55 L314.8,350.89 L316.4,351.45 L318,351.81 L319.6,352.35 L321.2,352.81 L322.8,353.32 L324.4,353.91 L326,354.54 L327.6,355.2 L329.2,355.84 L329.2,355.8C334.3,357.2 339.3,359.8 344.4,359.8C351.8,359.8 359.2,353.0 366.6,348.6C376.5,342.7 386.4,332.9 396.3,327.6C404.6,323.1 412.8,320.9 421.1,317.7C429.3,314.5 437.6,311.9 445.8,308.6C452.1,306.1 458.4,303.0 464.7,300.7C473.0,297.7 481.2,295.3 489.5,293.3C497.7,291.3 506.0,289.7 514.2,288.8C519.6,288.2 524.9,287.8 530.3,287.8C532.8,287.8 535.2,289.3 537.7,290.8C539.8,292.1 541.8,293.9 543.9,295.7C548.0,299.4 552.2,305.0 556.3,309.3C557.9,311.0 559.6,314.3 561.2,314.3C562.4,314.3 563.7,314.3 564.9,314.3C566.1,314.3 567.4,310.7 568.6,309.3C569.8,307.9 571.1,306.1 572.3,306.1C573.6,306.1 574.8,307.8 576.1,308.6C577.7,309.7 579.4,311.8 581.0,311.8C582.1,311.8 583.1,311.0 584.2,309.3C585.6,307.1 587.0,301.1 588.4,298.2C590.9,293.1 593.3,294.5 595.8,290.8C598.3,287.1 600.8,279.9 603.3,275.9C606.6,270.6 609.9,268.7 613.2,264.8C616.5,260.9 619.8,252.4 623.1,252.4C626.0,252.4 628.8,254.2 631.7,254.2C634.6,254.2 637.5,247.3 640.4,245.0C643.7,242.4 647.0,241.4 650.3,240.1C658.5,236.8 666.8,237.4 675.0,235.9C687.4,233.7 699.7,231.0 712.1,228.9C728.6,226.1 745.1,224.7 761.6,221.5C774.0,219.1 786.3,215.7 798.7,212.9C810.2,210.3 821.8,206.9 833.3,205.2C840.4,204.1 847.6,204.2 854.7,203.0C861.3,201.9 867.9,201.3 874.5,198.5C877.0,197.4 879.4,194.8 881.9,194.8C884.4,194.8 886.9,195.6 889.4,195.6C902.6,195.6 915.7,189.8 928.9,187.4C945.4,184.4 961.9,182.2 978.4,180.0C992.4,178.1 1006.5,177.3 1020.5,175.0C1023.8,174.5 1027.1,173.3 1030.4,173.3C1033.7,173.3 1037.0,174.3 1040.3,174.3C1043.6,174.3 1046.9,170.8 1050.2,170.8C1053.5,170.8 1056.8,171.8 1060.1,171.8C1065.0,171.8 1070.0,168.3 1074.9,168.3C1079.8,168.3 1084.8,168.8 1089.7,168.8C1094.2,168.8 1098.8,166.9 1103.3,166.9C1107.0,166.9 1110.8,170.6 1114.5,170.6C1118.2,170.6 1121.9,169.6 1125.6,169.6C1129.6,169.6 1133.5,177.7 1137.5,179.7C1140.0,180.9 1142.5,180.5 1145.0,181.8C1146.8,182.7 1148.7,182.7 1150.5,185.5C1151.9,187.6 1153.3,191.5 1154.7,194.6C1156.9,199.5 1159.2,200.4 1161.4,209.6C1162.4,213.7 1163.4,219.6 1164.4,224.5C1166.1,233.1 1167.9,240.5 1169.6,250.0C1170.6,255.7 1171.7,258.8 1172.7,268.0C1173.9,279.0 1175.2,299.1 1176.4,314.7C1177.6,330.3 1178.9,345.7 1180.1,361.4C1181.1,373.7 1182.0,389.6 1183.0,398.7C1183.7,405.6 1184.5,410.6 1185.2,413.7C1185.7,415.8 1186.2,417.4 1186.7,417.4C1187.2,417.4 1187.7,415.8 1188.2,413.7C1188.9,410.6 1189.7,405.8 1190.4,398.7C1191.3,389.7 1192.3,380.1 1193.2,361.4C1193.8,348.7 1194.5,331.2 1195.1,314.7C1195.7,299.9 1196.2,278.8 1196.8,268.0C1197.3,257.8 1197.9,257.0 1198.4,250.0C1199.1,240.3 1199.9,225.5 1200.6,215.0C1201.6,201.2 1202.5,190.9 1203.5,179.7C1204.4,169.3 1205.3,158.1 1206.2,149.8C1207.9,134.0 1209.6,128.5 1211.3,119.9C1212.3,115.0 1213.2,109.7 1214.2,106.5C1215.3,102.8 1216.4,101.3 1217.5,100.3C1218.7,99.2 1219.9,99.2 1221.1,99.2C1222.3,99.2 1223.6,99.6 1224.8,102.0C1226.1,104.5 1227.3,109.6 1228.6,114.2C1229.5,117.6 1230.5,122.3 1231.4,125.4C1232.3,128.5 1233.3,132.8 1234.2,132.8C1235.4,132.8 1236.7,129.9 1237.9,128.2C1239.5,126.0 1241.0,122.1 1242.6,120.7C1243.8,119.6 1245.1,119.4 1246.3,119.4C1247.9,119.4 1249.4,121.3 1251.0,121.3C1251.9,121.3 1252.9,117.4 1253.8,116.0C1256.0,112.7 1258.1,113.3 1260.3,111.9C1262.2,110.7 1264.0,108.9 1265.9,108.2C1267.5,107.6 1269.0,107.6 1270.6,107.6C1271.5,107.6 1272.5,110.4 1273.4,110.4C1274.6,110.4 1275.9,106.3 1277.1,106.3C1278.7,106.3 1280.2,108.9 1281.8,108.9C1283.0,108.9 1284.3,106.3 1285.5,106.3C1287.1,106.3 1288.6,107.1 1290.2,108.2C1292.1,109.5 1293.9,110.6 1295.8,114.2C1297.0,116.6 1298.3,119.5 1299.5,123.5C1300.7,127.5 1302.0,132.2 1303.2,138.4C1304.2,143.2 1305.1,149.8 1306.1,155.2C1307.0,160.4 1308.0,166.6 1308.9,170.2C1309.8,173.8 1310.8,176.7 1311.7,176.7C1313.6,176.7 1315.4,174.3 1317.3,174.3C1318.5,174.3 1319.8,175.0 1321.0,176.7C1321.9,178.0 1322.9,182.3 1323.8,182.3C1324.7,182.3 1325.7,180.0 1326.6,175.8C1327.5,171.6 1328.5,162.7 1329.4,157.1C1330.3,151.5 1331.3,147.8 1332.2,142.2C1333.1,136.6 1334.1,128.9 1335.0,123.5C1335.9,118.0 1336.9,112.5 1337.8,109.5C1338.7,106.5 1339.7,105.8 1340.6,105.8C1341.7,105.8 1342.9,107.8 1344.0,111.4C1345.0,114.7 1346.1,120.7 1347.1,125.4C1348.0,129.7 1349.0,133.7 1349.9,138.4C1350.8,143.1 1351.8,149.9 1352.7,153.4C1353.5,156.5 1354.4,159.0 1355.2,159.0C1356.2,159.0 1357.3,157.2 1358.3,153.4C1359.2,150.0 1360.2,142.0 1361.1,138.4C1362.0,134.8 1363.0,133.3 1363.9,131.9C1365.2,130.0 1366.4,131.9 1367.7,130.0C1368.6,128.6 1369.6,124.5 1370.5,122.6C1371.4,120.6 1372.4,118.6 1373.3,118.3C1374.2,118.0 1375.0,118.0 1375.9,118.0C1377.8,118.0 1379.6,120.4 1381.5,121.7C1382.7,122.6 1384.0,122.0 1385.2,124.5C1386.1,126.4 1387.1,130.5 1388.0,133.0C1388.9,135.5 1389.9,138.4 1390.8,139.5C1392.4,141.4 1393.9,139.5 1395.5,141.4C1396.4,142.5 1397.4,149.3 1398.3,153.5C1399.2,157.7 1400.2,163.9 1401.1,166.6C1402.0,169.3 1403.0,169.4 1403.9,169.4C1405.5,169.4 1407.0,167.5 1408.6,167.5C1409.5,167.5 1410.5,173.3 1411.4,177.8C1412.3,182.3 1413.3,189.3 1414.2,194.6C1415.1,199.9 1416.1,205.4 1417.0,209.5C1417.9,213.6 1418.9,218.0 1419.8,218.9C1420.7,219.8 1421.7,219.8 1422.6,219.8C1423.5,219.8 1424.5,215.9 1425.4,213.2C1426.6,209.7 1427.9,204.2 1429.1,200.2C1430.3,196.2 1431.6,192.4 1432.8,189.0C1434.1,185.5 1435.3,182.6 1436.6,179.6C1437.8,176.7 1439.1,173.2 1440.3,171.2C1441.5,169.2 1442.8,167.5 1444.0,167.5C1444.9,167.5 1445.9,169.8 1446.8,174.0C1447.7,178.2 1448.7,185.5 1449.6,192.7C1450.5,199.9 1451.5,209.8 1452.4,217.0C1453.3,224.2 1454.3,230.2 1455.2,235.7C1456.5,243.2 1457.7,248.8 1459.0,254.3C1460.5,260.9 1462.1,266.2 1463.6,271.1C1465.2,276.2 1466.7,281.3 1468.3,284.2C1469.2,285.9 1470.2,287.9 1471.1,287.9C1472.3,287.9 1473.6,285.1 1474.8,282.3C1476.4,278.8 1477.9,274.0 1479.5,267.4C1480.7,262.2 1482.0,255.1 1483.2,248.7C1484.5,242.1 1485.7,234.8 1487.0,228.2C1488.2,221.8 1489.5,215.7 1490.7,209.5C1492.0,203.2 1493.2,198.4 1494.5,190.8C1495.7,183.4 1497.0,178.2 1498.2,164.7C1498.6,160.0 1499.1,153.6 1499.5,148.7C1500.6,136.2 1501.7,128.6 1502.8,119.0C1503.9,109.4 1505.0,99.2 1506.1,90.9C1507.2,82.6 1508.3,74.9 1509.4,69.4C1510.5,63.9 1511.6,60.7 1512.7,57.8C1514.6,52.7 1516.6,52.6 1518.5,51.2C1520.7,49.6 1522.9,51.2 1525.1,49.6C1526.2,48.8 1527.3,46.0 1528.4,41.3C1529.1,38.4 1529.7,33.2 1530.4,30.5C1531.0,28.0 1531.7,26.1 1532.3,25.5C1533.1,24.8 1533.8,25.5 1534.6,24.8C1534.9,24.5 1535.2,18.2 1535.5,12.0C1535.7,8.6 1535.8,4.0 1536.0,0.0"/>
</g>
<path class="ax" d="M64.9,924.5 H1550.5"/>
<path class="ax tk" d="M64.9,925.3 V942.7"/>
<path class="ax tk" d="M188.7,925.3 V933.5"/>
<path class="ax tk" d="M312.5,925.3 V942.7"/>
<path class="ax tk" d="M436.3,925.3 V933.5"/>
<path class="ax tk" d="M560.1,925.3 V942.7"/>
<path class="ax tk" d="M683.9,925.3 V933.5"/>
<path class="ax tk" d="M807.7,925.3 V942.7"/>
<path class="ax tk" d="M931.5,925.3 V933.5"/>
<path class="ax tk" d="M1055.3,925.3 V942.7"/>
<path class="ax tk" d="M1179.1,925.3 V933.5"/>
<path class="ax tk" d="M1302.9,925.3 V942.7"/>
<path class="ax tk" d="M1426.7,925.3 V933.5"/>
<path class="ax tk" d="M1550.5,925.3 V942.7"/>
<text class="t" x="64.9" y="992.3" font-size="46.7" text-anchor="middle">4000</text>
<text class="t" x="312.5" y="992.3" font-size="46.7" text-anchor="middle">3500</text>
<text class="t" x="560.1" y="992.3" font-size="46.7" text-anchor="middle">3000</text>
<text class="t" x="807.7" y="992.3" font-size="46.7" text-anchor="middle">2500</text>
<text class="t" x="1055.3" y="992.3" font-size="46.7" text-anchor="middle">2000</text>
<text class="t" x="1302.9" y="992.3" font-size="46.7" text-anchor="middle">1500</text>
<text class="t" x="1550.5" y="992.3" font-size="46.7" text-anchor="middle">1000</text>
<text class="t" x="601" y="1042" font-size="46" letter-spacing="0.7">Wavenumbers(cm<tspan font-size="36" dy="-26.5">-1</tspan><tspan dy="26.5">)</tspan></text>
<text class="t" transform="translate(83.2,284) scale(0.938,1)" font-size="49.5">MIP</text><text class="t" transform="translate(174.8,301) scale(0.97,1)" font-size="47.5">UV</text>
<text class="t" transform="translate(88.6,506.5) scale(0.958,1)" font-size="48.1">NIP</text><text class="t" transform="translate(169.7,523.3) scale(1.013,1)" font-size="45.5">UV</text>
<text class="t" transform="translate(90.6,627.2) scale(0.976,1)" font-size="47.25">MIP</text><text class="t" transform="translate(180.7,644.9) scale(1.013,1)" font-size="45.3">FIR</text>
<text class="t" transform="translate(95.1,772.8) scale(0.98,1)" font-size="47.4">NIP</text><text class="t" transform="translate(176.6,790) scale(0.996,1)" font-size="45.8">FIR</text>
</svg>
</body></html>
